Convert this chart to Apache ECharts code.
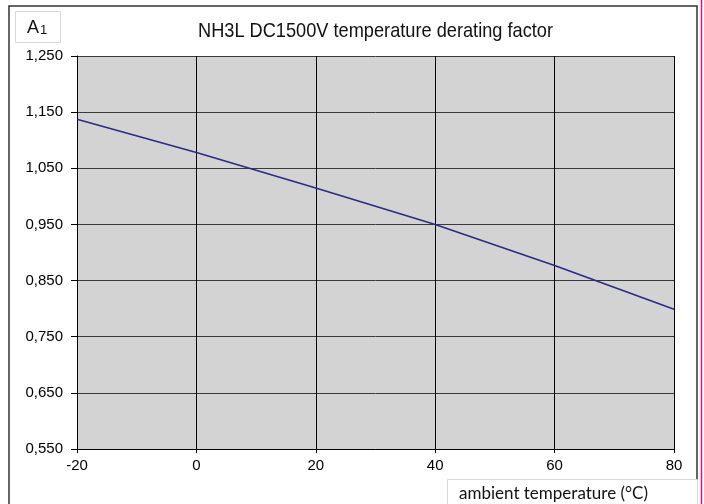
<!DOCTYPE html>
<html>
<head>
<meta charset="utf-8">
<script src="https://cdn.jsdelivr.net/npm/echarts@6/dist/echarts.min.js"></script>
<style>
  html, body { margin: 0; padding: 0; background: #ffffff; }
  #chart { width: 704px; height: 504px; }
</style>
</head>
<body>
<div id="chart"></div>
<script>
// Ambient temperature (°C) and the matching derating factor
const temperatures = [-20, 0, 20, 40, 60, 80];
const deratingFactor = [1.1375, 1.078, 1.015, 0.950, 0.877, 0.799];

// Axis tick values
const xTicks = [-20, 0, 20, 40, 60, 80];
const yTicks = [0.55, 0.65, 0.75, 0.85, 0.95, 1.05, 1.15, 1.25];

const chartTitle = 'NH3L DC1500V temperature derating factor';
const xAxisTitle = 'ambient temperature (°C)';

const chart = echarts.init(document.getElementById('chart'), null, { renderer: 'canvas' });

const fmtComma = v => v.toFixed(3).replace('.', ',');

// The title uses a narrow face; squeeze a regular sans face to that width.
const titleFont = '21px "Liberation Sans", Arial, sans-serif';
const titleWidth = 355;
const measureCtx = document.createElement('canvas').getContext('2d');
measureCtx.font = titleFont;
const titleScale = Math.min(1, titleWidth / measureCtx.measureText(chartTitle).width);

chart.setOption({
  animation: false,
  backgroundColor: '#ffffff',
  graphic: [
    {
      type: 'rect',
      silent: true,
      shape: { x: 9, y: 6, width: 688, height: 520 },
      style: { fill: null, stroke: '#333333', lineWidth: 1.5 },
      z: -1
    },
    {
      type: 'line',
      silent: true,
      shape: { x1: 701.5, y1: 0, x2: 701.5, y2: 504 },
      style: { stroke: '#d4148c', lineWidth: 1.5 }
    },
    {
      type: 'text',
      silent: true,
      x: 375.5,
      y: 31,
      scaleX: titleScale,
      style: {
        text: chartTitle,
        font: titleFont,
        fill: '#111111',
        textAlign: 'center',
        textVerticalAlign: 'middle'
      }
    },
    {
      type: 'rect',
      silent: true,
      shape: { x: 15.5, y: 11.5, width: 45, height: 31 },
      style: { fill: '#ffffff', stroke: '#d8d8d8', lineWidth: 1 }
    },
    {
      type: 'text',
      silent: true,
      x: 27,
      y: 28,
      style: {
        text: '{a|A}{b|1}',
        textVerticalAlign: 'middle',
        rich: {
          a: { fontFamily: 'Liberation Sans', fontSize: 18, fontWeight: 'normal', fill: '#111111' },
          b: { fontFamily: 'Liberation Sans', fontSize: 13, fontWeight: 'normal', fill: '#111111', padding: [4, 0, 0, 1] }
        }
      }
    },
    {
      type: 'rect',
      silent: true,
      shape: { x: 447.5, y: 479.5, width: 250, height: 40 },
      style: { fill: '#ffffff', stroke: '#d8d8d8', lineWidth: 1 },
      z: 10
    },
    {
      type: 'text',
      silent: true,
      x: 459,
      y: 494,
      z: 11,
      style: {
        text: xAxisTitle,
        font: '17px Lato, "Open Sans", sans-serif',
        fill: '#111111',
        textVerticalAlign: 'middle'
      }
    },
    {
      // thin light edge along the right side of the plot area
      type: 'line',
      silent: true,
      shape: { x1: 674.5, y1: 56, x2: 674.5, y2: 449 },
      style: { stroke: '#f2f2f2', lineWidth: 1 }
    }
  ],
  grid: {
    left: 77,
    right: 30,
    top: 56,
    bottom: 55,
    show: true,
    backgroundColor: '#d3d3d3',
    borderWidth: 0
  },
  xAxis: {
    type: 'value',
    min: -20,
    max: 80,
    interval: 20,
    axisLine: { show: true, onZero: false, lineStyle: { color: '#000000', width: 1 } },
    axisTick: { show: true, length: 4, inside: false, lineStyle: { color: '#000000' } },
    axisLabel: {
      margin: 9,
      fontFamily: 'Liberation Sans',
      fontSize: 15,
      color: '#000000',
      customValues: xTicks,
      showMinLabel: true,
      showMaxLabel: true
    },
    splitLine: { show: true, lineStyle: { color: '#000000', width: 1 } }
  },
  yAxis: {
    type: 'value',
    min: 0.55,
    max: 1.25,
    interval: 0.05,
    axisLine: { show: true, onZero: false, lineStyle: { color: '#000000', width: 1 } },
    axisTick: { show: true, length: 6, lineStyle: { color: '#000000' }, customValues: yTicks },
    axisLabel: {
      margin: 14,
      fontFamily: 'Liberation Sans',
      fontSize: 15,
      color: '#000000',
      customValues: yTicks,
      formatter: fmtComma
    },
    splitLine: { show: true, lineStyle: { color: '#3a3a3a', width: 1 } }
  },
  series: [
    {
      type: 'line',
      data: temperatures.map((t, i) => [t, deratingFactor[i]]),
      showSymbol: false,
      symbol: 'none',
      lineStyle: { color: '#2b2a86', width: 1.6 },
      z: 3
    }
  ]
});
</script>
</body>
</html>
